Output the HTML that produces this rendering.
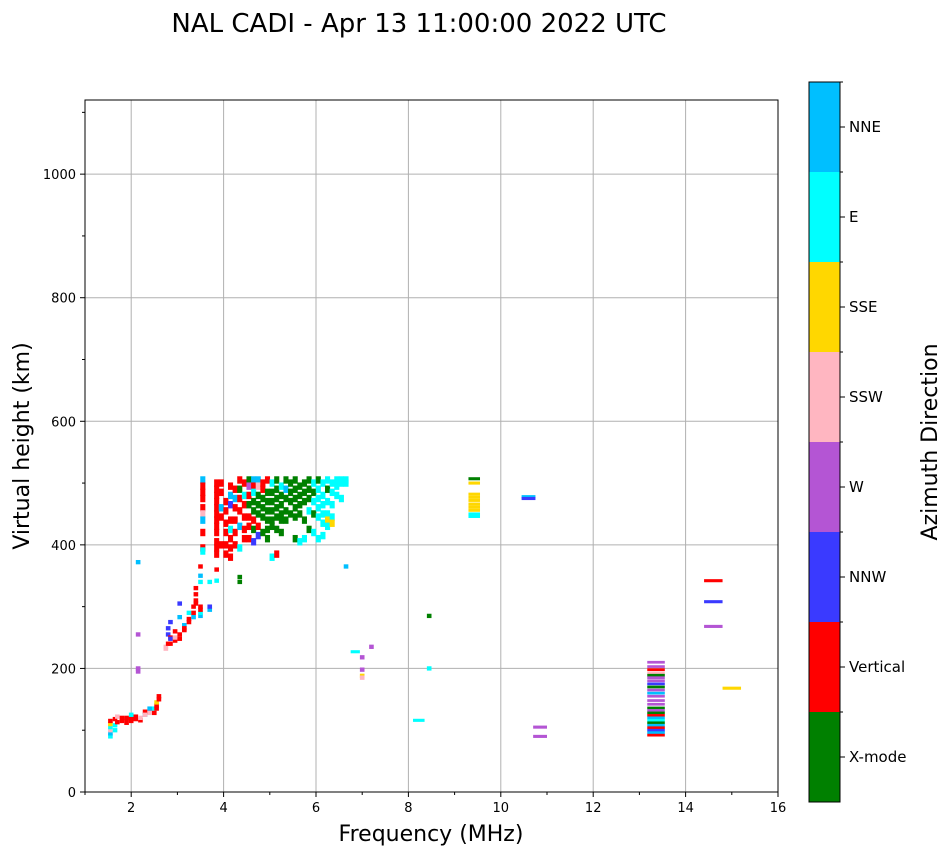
<!DOCTYPE html>
<html><head><meta charset="utf-8"><style>
body{margin:0;background:#fff;font-family:"DejaVu Sans",sans-serif}
svg text{font-family:"DejaVu Sans","Liberation Sans",sans-serif}
</style></head><body>
<svg id="chart" width="951" height="856" xmlns="http://www.w3.org/2000/svg">
<text x="419" y="32" font-size="26" text-anchor="middle">NAL CADI - Apr 13 11:00:00 2022 UTC</text>
<g id="grid"></g>
<g id="marks"></g>
<rect x="85" y="100" width="693" height="692" fill="none" stroke="#000" stroke-width="1"/>
<g id="axes"></g>
<text x="431" y="841" font-size="22" text-anchor="middle">Frequency (MHz)</text>
<text transform="translate(29,446) rotate(-90)" font-size="22" text-anchor="middle">Virtual height (km)</text>
<g id="cbar"></g>
<text transform="translate(937,442) rotate(-90)" font-size="22" text-anchor="middle">Azimuth Direction</text>
</svg>
<script>
const catNames=["X-mode","Vertical","NNW","W","SSW","SSE","E","NNE"];
const catColors=["#008000","#ff0000","#3a3aff","#b455d4","#ffb6c1","#ffd700","#00ffff","#00bfff"];
const xTicks=[2,4,6,8,10,12,14,16];
const yTicks=[0,200,400,600,800,1000];
// columns: [freq, [[height,cat],...]]
const denseCols=[
[1.55,[[90,6],[95,7],[100,4],[105,6],[110,5],[115,1]]],
[1.65,[[100,6],[108,6],[118,1]]],[1.7,[[122,4],[113,1]]],[1.8,[[120,1],[115,1]]],
[1.9,[[112,1],[118,1],[120,1]]],[2.0,[[115,1],[120,1],[125,6]]],[2.1,[[118,1],[122,1]]],
[2.2,[[116,1],[120,4]]],[2.3,[[125,7],[130,1],[125,4]]],[2.4,[[130,1],[135,7],[128,4]]],
[2.5,[[135,6],[128,1]]],[2.55,[[140,1],[135,1],[145,5]]],[2.6,[[150,1],[155,1]]],
[2.75,[[232,4],[235,4]]],[2.8,[[240,1],[255,2],[265,2]]],[2.85,[[240,1],[250,1],[248,2],[275,2]]],
[2.95,[[245,1],[250,4],[260,1]]],[3.05,[[248,1],[255,1],[283,7],[305,2]]],[3.15,[[262,1],[270,7],[265,1]]],
[3.25,[[275,1],[280,1],[290,6]]],[3.35,[[283,7],[290,1],[300,1]]],[3.4,[[305,1],[310,1],[320,1],[330,1]]],
[3.5,[[285,7],[290,6],[295,1],[300,1],[340,6],[350,7],[365,1]]],[3.7,[[295,7],[300,2],[340,6]]],
[2.15,[[372,7],[255,3],[200,3],[195,3]]],
[3.55,[[505,7],[495,1],[485,1],[475,1],[460,1],[450,4],[440,7],[420,1],[395,1],[390,6]]],
[3.85,[[500,1],[490,1],[480,1],[470,1],[460,1],[450,1],[440,1],[430,1],[420,1],[405,1],[395,1],[385,1],[342,6],[360,1]]],
[3.95,[[500,1],[485,1],[460,7],[445,1],[400,1]]],
[4.05,[[470,1],[455,1],[435,1],[420,1],[400,1],[385,1]]],
[4.15,[[495,1],[480,7],[465,2],[440,1],[425,6],[410,1],[395,1],[380,1]]],
[4.25,[[490,1],[475,7],[460,1],[440,1],[420,1],[400,1]]],
[4.35,[[505,1],[490,0],[475,1],[455,1],[430,7],[395,6],[340,0],[348,0]]],
[4.45,[[500,1],[480,6],[465,1],[445,1],[425,1],[410,1]]],
[4.55,[[505,0],[495,3],[480,1],[465,0],[445,1],[430,1],[410,1]]],
[4.65,[[505,7],[495,1],[485,6],[470,0],[455,0],[440,1],[425,0],[405,2]]],
[4.75,[[505,7],[495,4],[480,0],[465,0],[450,0],[430,1],[415,2]]],
[4.85,[[500,1],[490,1],[475,0],[460,0],[445,0],[420,0]]],
[4.95,[[505,1],[485,0],[470,0],[455,0],[440,0],[425,0],[410,0]]],
[5.05,[[500,6],[485,0],[470,0],[455,0],[440,0],[430,0],[380,6]]],
[5.15,[[505,0],[490,0],[475,0],[460,0],[445,0],[425,0],[385,1]]],
[5.25,[[495,6],[480,0],[465,0],[450,0],[440,0],[420,0]]],
[5.35,[[505,0],[490,7],[475,0],[455,0],[440,0]]],
[5.45,[[500,0],[485,0],[470,0],[450,0]]],
[5.55,[[505,0],[490,0],[475,0],[460,0],[445,0],[410,0]]],
[5.65,[[495,0],[480,0],[465,0],[450,0],[405,6]]],
[5.75,[[500,0],[485,0],[470,0],[440,0],[410,6]]],
[5.85,[[505,0],[490,0],[475,0],[455,6],[425,0]]],
[5.95,[[500,6],[485,0],[470,6],[450,0],[420,6]]],
[6.05,[[505,0],[490,6],[475,6],[460,6],[445,6],[410,6]]],
[6.15,[[500,6],[480,6],[465,6],[450,6],[435,6],[415,6]]],
[6.25,[[505,6],[490,0],[470,6],[450,6],[440,5],[430,6]]],
[6.35,[[500,6],[485,6],[465,6],[445,6],[435,5]]],
[6.45,[[505,6],[495,6],[480,6]]],[6.55,[[505,6],[500,6],[475,6]]],[6.65,[[505,6],[500,6],[365,7]]],
[7.0,[[218,3],[198,3],[188,5],[185,4]]],[7.2,[[235,3]]],[8.45,[[285,0],[200,6]]]
];
// wide isolated traces
const wideFreq0=[6.75,8.1,9.3,9.3,9.3,9.3,9.3,9.3,9.3,9.3,9.3,9.3,10.45,10.45,10.7,10.7,14.4,14.4,14.4,14.8];
const wideFreq1=[6.95,8.35,9.55,9.55,9.55,9.55,9.55,9.55,9.55,9.55,9.55,9.55,10.75,10.75,11.0,11.0,14.8,14.8,14.8,15.2];
const wideH=[227,116,507,500,482,477,472,466,461,456,450,446,478,475,105,90,342,308,268,168];
const wideCat=[6,6,0,5,5,5,5,5,5,5,6,6,7,2,3,3,1,2,3,5];
const stackH=[210,203,198,193,189,185,180,175,170,165,160,155,148,142,136,132,128,124,120,116,112,108,104,100,96,92];
const stackCat=[3,3,1,4,0,3,3,2,0,3,7,3,3,3,0,3,0,1,7,6,0,7,1,2,7,1];
const F0=1,F1=16,H0=0,H1=1120,PX0=85,PX1=778,PY0=792,PY1=100;
const xs=f=>PX0+(f-F0)/(F1-F0)*(PX1-PX0);
const ys=h=>PY0-(h-H0)/(H1-H0)*(PY0-PY1);
const NS="http://www.w3.org/2000/svg";
function mk(tag,attrs,parent){const e=document.createElementNS(NS,tag);for(const k in attrs)e.setAttribute(k,attrs[k]);parent.appendChild(e);return e;}
const grid=document.getElementById('grid'),axes=document.getElementById('axes'),marks=document.getElementById('marks'),cbar=document.getElementById('cbar');
xTicks.forEach(t=>{const x=xs(t);
 const g=mk('line',{x1:x,x2:x,y1:PY1,y2:PY0,stroke:'#b0b0b0','stroke-width':1},grid);
 
 mk('line',{x1:x,x2:x,y1:PY0,y2:PY0+5,stroke:'#000'},axes);
 const tx=mk('text',{x:x,y:PY0+20,'font-size':13,'text-anchor':'middle'},axes);tx.textContent=t;
 });
for(let f=1;f<=16;f+=2){mk('line',{x1:xs(f),x2:xs(f),y1:PY0,y2:PY0+3,stroke:'#000'},axes);}
yTicks.forEach(t=>{const y=ys(t);
 const g=mk('line',{x1:PX0,x2:PX1,y1:y,y2:y,stroke:'#b0b0b0','stroke-width':1},grid);
 
 mk('line',{x1:PX0-5,x2:PX0,y1:y,y2:y,stroke:'#000'},axes);
 const tx=mk('text',{x:PX0-9,y:y+5,'font-size':13,'text-anchor':'end'},axes);tx.textContent=t;
 });
for(let h=100;h<=1100;h+=200){mk('line',{x1:PX0-3,x2:PX0,y1:ys(h),y2:ys(h),stroke:'#000'},axes);}
function cell(f0,f1,h,c,dh){
 const y=ys(h+dh),hh=ys(h-dh)-ys(h+dh);
 const r=mk('rect',{x:xs(f0),y:y,width:xs(f1)-xs(f0),height:hh,fill:catColors[c]},marks);
 
 }
denseCols.forEach(col=>col[1].forEach(p=>{
 const dense=(col[0]>=3.5&&col[0]<=6.7&&p[0]>=375);
 cell(col[0]-(dense?0.055:0.05),col[0]+(dense?0.055:0.05),p[0],p[1],dense?6:3.5);}));
wideH.forEach((h,i)=>cell(wideFreq0[i],wideFreq1[i],h,wideCat[i],2.5));
stackH.forEach((h,i)=>{const y=ys(h+2.2),hh=ys(h-2.2)-ys(h+2.2);
 const r=mk('rect',{x:xs(13.17),y:y,width:xs(13.55)-xs(13.17),height:hh,fill:catColors[stackCat[i]]},marks);
 
 });
// colorbar
const CB0=82,CB1=802,CBX=809,CBW=31,seg=(CB1-CB0)/catNames.length;
catNames.forEach((n,i)=>{const top=CB1-(i+1)*seg;
 const r=mk('rect',{x:CBX,y:top,width:CBW,height:seg,fill:catColors[i]},cbar);
 
 mk('line',{x1:CBX+CBW,x2:CBX+CBW+5,y1:top+seg/2,y2:top+seg/2,stroke:'#000'},cbar);
 mk('line',{x1:CBX+CBW,x2:CBX+CBW+3,y1:top,y2:top,stroke:'#000'},cbar);
 const t=mk('text',{x:CBX+CBW+9,y:top+seg/2+5,'font-size':15},cbar);t.textContent=n;
 });
mk('rect',{x:CBX,y:CB0,width:CBW,height:CB1-CB0,fill:'none',stroke:'#000'},cbar);
</script>
</body></html>
